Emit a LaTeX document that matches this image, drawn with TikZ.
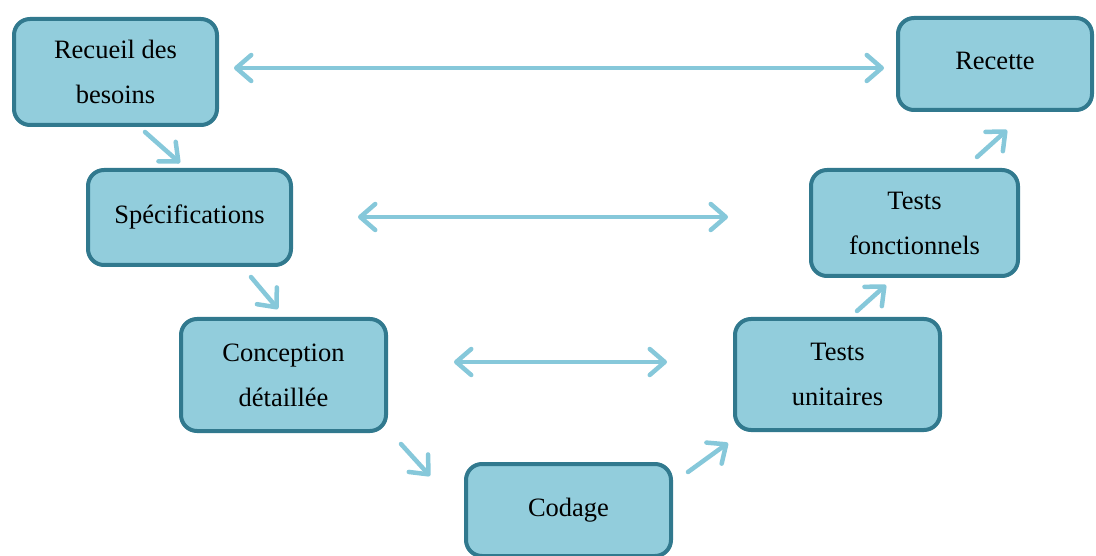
\documentclass[tikz,border=0pt]{standalone}
\usepackage{fontspec}
\setmainfont{Liberation Serif}
\usetikzlibrary{arrows.meta}
\definecolor{boxfill}{HTML}{92CDDC}
\definecolor{boxline}{HTML}{31798E}
\definecolor{arrowc}{HTML}{86C8DA}
\tikzset{
  phase/.style={draw=boxline, fill=boxfill, line width=4pt, rounded corners=16pt,
    align=center, inner sep=0pt, font=\fontsize{26.5}{45}\selectfont},
  link/.style={draw=arrowc, line width=4.5pt, line cap=round,
    -{Straight Barb[length=15pt,width=26pt,round]}},
  biLink/.style={draw=arrowc, line width=4.5pt, line cap=round,
    {Straight Barb[length=15pt,width=26pt,round]}-{Straight Barb[length=15pt,width=26pt,round]}}
}
\begin{document}
\begin{tikzpicture}[x=1pt,y=-1pt]
\useasboundingbox (0,0) rectangle (1096,556);
\node[phase, minimum width=203pt, minimum height=106pt] (rec) at (115.5,72) {Recueil des\\besoins};
\node[phase, minimum width=194pt, minimum height=92pt] (cet) at (995,64) {\raisebox{6pt}{Recette}};
\node[phase, minimum width=203pt, minimum height=95pt] (spe) at (189.5,217.5) {\raisebox{6pt}{Spécifications}};
\node[phase, minimum width=207pt, minimum height=106pt] (tfo) at (914.5,223) {Tests\\fonctionnels};
\node[phase, minimum width=205pt, minimum height=112pt] (con) at (283.5,375) {Conception\\détaillée};
\node[phase, minimum width=205pt, minimum height=111pt] (tun) at (837.5,374.5) {Tests\\unitaires};
\node[phase, minimum width=205pt, minimum height=92pt] (cod) at (568.5,510) {\raisebox{3pt}{Codage}};

\coordinate (h1a) at (234,68); \coordinate (h1b) at (884,68);
\coordinate (h2a) at (358,217); \coordinate (h2b) at (728,217);
\coordinate (h3a) at (454,362); \coordinate (h3b) at (667,362);
\draw[biLink] (h1a) -- (h1b);
\draw[biLink] (h2a) -- (h2b);
\draw[biLink] (h3a) -- (h3b);

\coordinate (d1a) at (145,132); \coordinate (d1b) at (180,163);
\coordinate (d2a) at (251,277); \coordinate (d2b) at (278,309);
\coordinate (d3a) at (401,444); \coordinate (d3b) at (430,476);
\coordinate (d4a) at (688,472); \coordinate (d4b) at (728,443);
\coordinate (d5a) at (857,311); \coordinate (d5b) at (886,285);
\coordinate (d6a) at (977,157); \coordinate (d6b) at (1007,130);
\draw[link] (d1a) -- (d1b);
\draw[link] (d2a) -- (d2b);
\draw[link] (d3a) -- (d3b);
\draw[link] (d4a) -- (d4b);
\draw[link] (d5a) -- (d5b);
\draw[link] (d6a) -- (d6b);
\end{tikzpicture}
\end{document}
